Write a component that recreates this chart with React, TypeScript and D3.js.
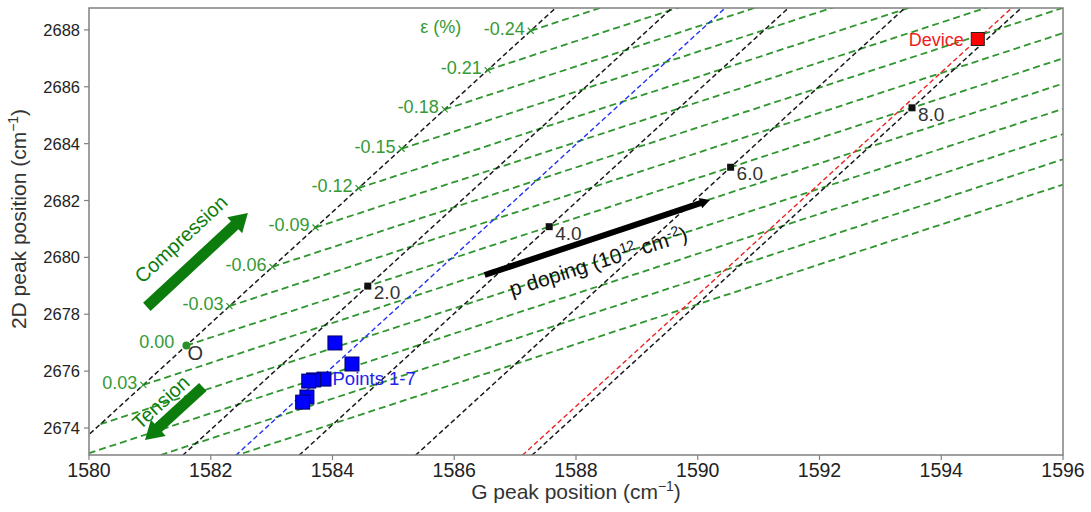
import React from "react";
import * as d3 from "d3";

// ---------- data ----------
const xTicks = [1580, 1582, 1584, 1586, 1588, 1590, 1592, 1594, 1596];
const yTicks = [2674, 2676, 2678, 2680, 2682, 2684, 2686, 2688];
const xLimits = [1580, 1596];
const yLimits = [2673.05, 2688.77];

// unstrained, undoped reference point "O"
const originG = 1581.6;
const origin2D = 2676.9;

// strain (%) levels of the constant-strain (green) lines
const strainValues = [0.15, 0.12, 0.09, 0.06, 0.03, 0.0, -0.03, -0.06, -0.09, -0.12, -0.15, -0.18, -0.21, -0.24];
const strainLabelled = [0.03, 0.0, -0.03, -0.06, -0.09, -0.12, -0.15, -0.18, -0.21, -0.24];
const strainShiftG = -23.57; // cm-1 per %
const strainShift2D = -46.13; // cm-1 per %

// doping levels (1e12 cm-2) of the constant-doping (black) lines
const dopingValues = [0, 2, 4, 6, 8];
const dopingLabelled = [2, 4, 6, 8];
const dopingShiftG = 1.49; // cm-1 per 1e12
const dopingShift2D = 1.045;

// measured points 1-7
const pointsG = [1584.04, 1584.32, 1583.86, 1583.69, 1583.61, 1583.58, 1583.51];
const points2D = [2676.99, 2676.25, 2675.72, 2675.69, 2675.65, 2675.09, 2674.91];

// device
const deviceG = 1594.6;
const device2D = 2687.68;

// annotation arrows (data coordinates: tail -> tip)
const compressionArrow = [[1580.95, 2678.26], [1582.61, 2681.56]];
const tensionArrow = [[1581.87, 2675.44], [1580.92, 2673.58]];
const dopingArrow = [[1586.5, 2679.38], [1590.2, 2682.02]];

// ---------- layout ----------
const W = 1091;
const H = 512;
const M = { left: 89, right: 1063, top: 8, bottom: 455 };

const FONT = "'Liberation Sans', Arial, Helvetica, sans-serif";
const GREEN_LINE = "#2f962f";
const GREEN_TEXT = "#359a35";
const GREEN_ARROW = "#0c7d0c";

function arrowPoly(x1: number, y1: number, x2: number, y2: number, w: number, hw: number, hl: number) {
  const dx = x2 - x1, dy = y2 - y1;
  const L = Math.hypot(dx, dy);
  const ux = dx / L, uy = dy / L;
  const px = -uy, py = ux;
  const bx = x2 - ux * hl, by = y2 - uy * hl;
  const pts = [
    [x1 + px * w / 2, y1 + py * w / 2],
    [bx + px * w / 2, by + py * w / 2],
    [bx + px * hw / 2, by + py * hw / 2],
    [x2, y2],
    [bx - px * hw / 2, by - py * hw / 2],
    [bx - px * w / 2, by - py * w / 2],
    [x1 - px * w / 2, y1 - py * w / 2],
  ];
  return pts.map((p) => p.join(",")).join(" ");
}

export default function App() {
  const x = d3.scaleLinear().domain(xLimits).range([M.left, M.right]);
  const y = d3.scaleLinear().domain(yLimits).range([M.bottom, M.top]);

  const dopSlope = dopingShift2D / dopingShiftG;
  const strSlope = strainShift2D / strainShiftG;

  const line = d3.line<[number, number]>().x((d) => x(d[0])).y((d) => y(d[1]));

  // constant strain lines: start on the zero-doping line, run in the doping direction
  const strainLines = strainValues.map((e) => {
    const g0 = originG + e * strainShiftG;
    const d0 = origin2D + e * strainShift2D;
    const g1 = 1598;
    return { e, g0, d0, path: line([[g0, d0], [g1, d0 + dopSlope * (g1 - g0)]]) };
  });

  const dopLine = (gA: number, dA: number) => {
    const dLo = 2670, dHi = 2691;
    return line([
      [gA + (dLo - dA) / strSlope, dLo],
      [gA + (dHi - dA) / strSlope, dHi],
    ]);
  };

  const dopingLines = dopingValues.map((n) => {
    const g = originG + n * dopingShiftG;
    const d = origin2D + n * dopingShift2D;
    return { n, g, d, path: dopLine(g, d) };
  });

  const meanG = d3.mean(pointsG) as number;
  const mean2D = d3.mean(points2D) as number;
  const bluePath = dopLine(meanG, mean2D);
  const redPath = dopLine(deviceG, device2D);

  const arrowPx = (a: number[][]) => [x(a[0][0]), y(a[0][1]), x(a[1][0]), y(a[1][1])];
  const ca = arrowPx(compressionArrow);
  const ta = arrowPx(tensionArrow);
  const da = arrowPx(dopingArrow);

  const fmtStrain = (v: number) => (Math.abs(v) < 1e-9 ? "0.00" : v.toFixed(2));

  return (
    <svg
      width={W}
      height={H}
      style={{ position: "absolute", left: 0, top: 0, background: "#fff" }}
      fontFamily={FONT}
    >
      <defs>
        <clipPath id="plot">
          <rect x={M.left} y={M.top} width={M.right - M.left} height={M.bottom - M.top} />
        </clipPath>
      </defs>

      <g clipPath="url(#plot)">
        {strainLines.map((s) => (
          <path key={"s" + s.e} d={s.path || ""} stroke={GREEN_LINE} strokeWidth={1.8} strokeDasharray="7,4" fill="none" />
        ))}
        {dopingLines.map((l) => (
          <path key={"d" + l.n} d={l.path || ""} stroke="#1a1a1a" strokeWidth={1.5} strokeDasharray="5,3" fill="none" />
        ))}
        <path d={bluePath || ""} stroke="#2233ee" strokeWidth={1.4} strokeDasharray="5,3" fill="none" />
        <path d={redPath || ""} stroke="#ee2222" strokeWidth={1.4} strokeDasharray="5,3" fill="none" />

        {/* strain markers */}
        {strainLines
          .filter((s) => strainLabelled.includes(s.e) && Math.abs(s.e) > 1e-9)
          .map((s) => {
            const cx = x(s.g0), cy = y(s.d0);
            return (
              <g key={"m" + s.e} stroke={GREEN_LINE} strokeWidth={1.2}>
                <line x1={cx - 3} y1={cy - 3} x2={cx + 3} y2={cy + 3} />
                <line x1={cx - 3} y1={cy + 3} x2={cx + 3} y2={cy - 3} />
              </g>
            );
          })}

        {/* doping markers */}
        {dopingLines
          .filter((l) => dopingLabelled.includes(l.n))
          .map((l) => (
            <rect key={"dm" + l.n} x={x(l.g) - 3.5} y={y(l.d) - 3.5} width={7} height={7} fill="#111" />
          ))}

        {/* O point */}
        <circle cx={x(originG)} cy={y(origin2D)} r={4} fill="#2a8f2a" />

        {/* points 1-7 */}
        {pointsG.map((g, i) => (
          <rect key={"p" + i} x={x(g) - 7} y={y(points2D[i]) - 7} width={14} height={14} fill="#0000ff" stroke="#000066" strokeWidth={1} />
        ))}

        {/* device */}
        <rect x={x(deviceG) - 6.5} y={y(device2D) - 6.5} width={13} height={13} fill="#ff0000" stroke="#222" strokeWidth={1} />

        {/* arrows */}
        <polygon points={arrowPoly(ca[0], ca[1], ca[2], ca[3], 11, 22, 18)} fill={GREEN_ARROW} />
        <polygon points={arrowPoly(ta[0], ta[1], ta[2], ta[3], 11, 22, 18)} fill={GREEN_ARROW} />
        <polygon points={arrowPoly(da[0], da[1], da[2], da[3], 6, 11, 10)} fill="#000" />
      </g>

      {/* strain labels */}
      {strainLines
        .filter((s) => strainLabelled.includes(s.e))
        .map((s) => {
          const zero = Math.abs(s.e) < 1e-9;
          return (
            <text
              key={"sl" + s.e}
              x={x(s.g0) - (zero ? 12 : 6)}
              y={y(s.d0) + (zero ? 2 : 4)}
              textAnchor="end"
              fontSize={18}
              fill={GREEN_TEXT}
            >
              {fmtStrain(s.e)}
            </text>
          );
        })}
      <text x={x(1585.44)} y={y(2687.89)} fontSize={18} fill={GREEN_TEXT}>
        ε (%)
      </text>

      {/* doping labels */}
      {dopingLines
        .filter((l) => dopingLabelled.includes(l.n))
        .map((l) => (
          <text key={"dl" + l.n} x={x(l.g) + 6} y={y(l.d) + 13} fontSize={19} fill="#333">
            {l.n.toFixed(1)}
          </text>
        ))}

      <text x={x(originG) + 1} y={y(origin2D) + 14} fontSize={20} fill="#333">
        O
      </text>
      <text x={x(1584.0)} y={y(2675.51)} fontSize={18.5} fill="#2222ee">
        Points 1-7
      </text>
      <text x={x(deviceG) - 14} y={y(device2D) + 7} fontSize={18} fill="#ee2020" textAnchor="end">
        Device
      </text>

      {/* arrow captions */}
      <text
        transform={`translate(${x(1581.51)},${y(2680.65)}) rotate(-43)`}
        textAnchor="middle"
        dominantBaseline="central"
        fontSize={20}
        fill={GREEN_ARROW}
      >
        Compression
      </text>
      <text
        transform={`translate(${x(1581.18)},${y(2674.91)}) rotate(-42)`}
        textAnchor="middle"
        dominantBaseline="central"
        fontSize={20}
        fill={GREEN_ARROW}
      >
        Tension
      </text>
      <text transform={`translate(${x(1586.95)},${y(2678.62)}) rotate(-17.7)`} fontSize={21} fill="#111">
        p doping (10
        <tspan dy={-8} fontSize={14}>12</tspan>
        <tspan dy={8}> cm</tspan>
        <tspan dy={-8} fontSize={14}>-2</tspan>
        <tspan dy={8}>)</tspan>
      </text>

      {/* frame */}
      <rect x={M.left} y={M.top} width={M.right - M.left} height={M.bottom - M.top} fill="none" stroke="#808080" strokeWidth={1.5} />

      {/* x axis */}
      {xTicks.map((t) => (
        <g key={"xt" + t}>
          <line x1={x(t)} x2={x(t)} y1={M.bottom} y2={M.bottom + 5} stroke="#808080" strokeWidth={1.2} />
          <text x={x(t)} y={M.bottom + 22} textAnchor="middle" fontSize={19.5} fill="#222">
            {t}
          </text>
        </g>
      ))}
      {/* y axis */}
      {yTicks.map((t) => (
        <g key={"yt" + t}>
          <line x1={M.left - 5} x2={M.left} y1={y(t)} y2={y(t)} stroke="#808080" strokeWidth={1.2} />
          <text x={M.left - 9} y={y(t)} textAnchor="end" dominantBaseline="central" fontSize={16.5} fill="#222">
            {t}
          </text>
        </g>
      ))}

      <text x={(M.left + M.right) / 2} y={499} textAnchor="middle" fontSize={21} fill="#333">
        G peak position (cm
        <tspan dy={-8} fontSize={14}>−1</tspan>
        <tspan dy={8}>)</tspan>
      </text>
      <text transform={`translate(26,219) rotate(-90)`} textAnchor="middle" fontSize={21} fill="#333">
        2D peak position (cm
        <tspan dy={-8} fontSize={14}>−1</tspan>
        <tspan dy={8}>)</tspan>
      </text>
    </svg>
  );
}
